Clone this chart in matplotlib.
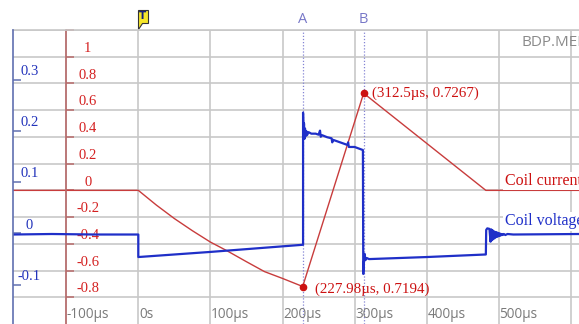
# coding = utf-8
import matplotlib
matplotlib.use("Agg")
import matplotlib.pyplot as plt
from matplotlib.transforms import blended_transform_factory, ScaledTranslation
from matplotlib.patches import Polygon

# ---- data ----
# coil voltage (blue, left scale), time in us
t_volt = [-174, -120, -60, 0, 0, 100, 228.5,
          228.5, 229.2, 229.8, 230.5, 231.2, 232, 233, 234, 236, 240, 246,
          250, 252, 253, 255, 262, 268, 269, 270, 280, 290, 291, 292, 300, 311.5,
          312, 313, 314, 315, 317, 320, 400, 482,
          482.5, 484, 487, 488.5, 489.5, 490.5, 491.5, 492.5, 493.5, 494.5,
          495.5, 496.5, 497.5, 498.5, 499.5, 500.5, 501.5, 502.5, 504, 505.5,
          507, 509, 512, 520, 612]
volt = [-0.002, -0.001, -0.002, -0.002, -0.046, -0.036, -0.022,
        0.236, 0.19, 0.215, 0.185, 0.205, 0.19, 0.2, 0.192, 0.198, 0.195, 0.195,
        0.193, 0.201, 0.189, 0.192, 0.188, 0.186, 0.178, 0.183, 0.178, 0.173, 0.178, 0.169, 0.169, 0.163,
        -0.079, -0.055, -0.040, -0.052, -0.048, -0.050, -0.046, -0.041,
        0.007, 0.010, 0.009, -0.016, 0.008, -0.013, 0.006, -0.011, 0.004, -0.009,
        0.003, -0.007, 0.002, -0.006, 0.001, -0.005, 0.000, -0.004, -0.001, -0.003,
        -0.001, -0.003, -0.001, -0.002, -0.001]

# coil current (red, right scale)
t_curr = [-174, 0, 25, 50, 75, 100, 123, 150, 175, 200, 227.98, 312.5, 482, 612]
curr = [0, 0, -0.110, -0.211, -0.302, -0.387, -0.452, -0.534, -0.608, -0.659, -0.7194, 0.7267, 0, 0]

peak_t = [312.5, 227.98]
peak_v = [0.7267, -0.7194]
peak_labels = ["(312.5\u00b5s, 0.7267)", "(227.98\u00b5s, 0.7194)"]

cursor_t = [227.98, 312.5]
cursor_names = ["A", "B"]

x_ticks = [-100, 0, 100, 200, 300, 400, 500, 600]
x_labels = ["-100\u00b5s", "0s", "100\u00b5s", "200\u00b5s", "300\u00b5s", "400\u00b5s", "500\u00b5s", ""]
red_ticks = [-0.8, -0.6, -0.4, -0.2, 0, 0.2, 0.4, 0.6, 0.8, 1.0, 1.2]
red_labels = ["-0.8", "-0.6", "-0.4", "-0.2", "0", "0.2", "0.4", "0.6", "0.8", "1", ""]
blue_ticks = [-0.1, 0, 0.1, 0.2, 0.3]
blue_labels = ["-0.1", "0", "0.1", "0.2", "0.3"]

# ---- colours ----
c_blue = "#1f2fc8"
c_red = "#c83c3c"
c_redtxt = "#d42020"
c_bluetxt = "#2233bb"
c_grid = "#c8c8c8"
c_cursor = "#8484d4"
serif = "Liberation Serif"

fig = plt.figure(figsize=(5.79, 3.24), dpi=100)
ax = fig.add_axes([13 / 579, 0, 566 / 579, 294 / 324])
ax.set_xlim(-173.8, 611.2)
ax.set_ylim(-1.0, 1.2)

ax.set_xticks(x_ticks)
ax.set_yticks(red_ticks)
ax.grid(True, color=c_grid, lw=1.2)
ax.tick_params(axis="x", length=0, labelbottom=False)
ax.tick_params(axis="y", direction="in", length=6, width=1.1, color="#b86a6a", labelleft=False)
for s in ("right", "bottom"):
	ax.spines[s].set_visible(False)
ax.spines["top"].set_color(c_grid); ax.spines["top"].set_linewidth(1.2)
ax.spines["left"].set_position(("data", -100))
ax.spines["left"].set_color("#b86a6a"); ax.spines["left"].set_linewidth(1.2)

# current trace + markers
ax.plot(t_curr, curr, color=c_red, lw=1.0)
ax.plot(peak_t, peak_v, "o", color="#cc1111", ms=4.5)
ax.annotate(peak_labels[0], (peak_t[0], peak_v[0]), xytext=(6, 0), textcoords="offset points",
	va="center", ha="left", color="#cc1111", fontsize=10.8, family=serif)
ax.annotate(peak_labels[1], (peak_t[1], peak_v[1]), xytext=(9, -1.7), textcoords="offset points",
	va="center", ha="left", color="#cc1111", fontsize=10.8, family=serif)

# cursors
xb = blended_transform_factory(ax.transData, ax.transAxes)
for t, name in zip(cursor_t, cursor_names):
	ax.axvline(t, ls=(0, (1, 1.5)), color=c_cursor, lw=0.9, zorder=1.6)
	ax.text(t, 1.036, name, transform=xb, ha="center", va="center", color="#7878c8",
		fontsize=10.5, family="Open Sans", clip_on=False)

# red tick labels (drawn right of the axis, just above each tick)
up = ScaledTranslation(0, 6 / 72, fig.dpi_scale_trans)
for v, lab in zip(red_ticks, red_labels):
	ax.text(-70, v, lab, transform=ax.transData + up, ha="center", va="center",
		color=c_redtxt, fontsize=10.5, family=serif)

# x tick labels
for t, lab in zip(x_ticks, x_labels):
	ax.text(t + 0.8, 0.034, lab, transform=xb, ha="left", va="center",
		color="#7a7a7a", fontsize=9.8, family="Open Sans")

# voltage axis
ax2 = ax.twinx()
ax2.set_ylim(-0.1768, 0.3975)
ax2.yaxis.tick_left()
ax2.set_yticks(blue_ticks)
ax2.tick_params(axis="y", direction="in", length=6, width=1.1, color="#6070b0", labelleft=False, labelright=False)
for s in ("right", "bottom", "top"):
	ax2.spines[s].set_visible(False)
ax2.spines["left"].set_color("#6070b0"); ax2.spines["left"].set_linewidth(1.2)
ax2.plot(t_volt, volt, color=c_blue, lw=1.6)

up2 = ScaledTranslation(0, 6 / 72, fig.dpi_scale_trans)
for v, lab in zip(blue_ticks, blue_labels):
	ax2.text(-151, v, lab, transform=ax2.transData + up2, ha="center", va="center",
		color=c_bluetxt, fontsize=10.5, family=serif)

# trace names on the right (cut by the right edge, as on the screenshot)
ax2.text(508, 0.07, "Coil current", transform=ax.transData, ha="left", va="center", color="#cc1111",
	fontsize=11.5, family=serif, bbox=dict(fc="white", ec="none", pad=1))
ax2.text(508, 0.024, "Coil voltage", ha="left", va="center", color=c_blue,
	fontsize=11.5, family=serif, bbox=dict(fc="white", ec="none", pad=1))

# file name
ax.text(532, 1.104, "BDP.MEM", ha="left", va="center", color="#8a8a8a", fontsize=11, family="Open Sans")

# trigger flag
flag = Polygon([(0, 1.005), (0, 1.0697), (13, 1.0697), (13, 1.0238), (5, 1.0238)],
	closed=True, transform=xb, fc="#f5e62a", ec="#333333", lw=0.8, clip_on=False)
ax.add_patch(flag)
ax.text(6.5, 1.047, "T", transform=xb, ha="center", va="center", color="#14207a",
	fontsize=7.5, fontweight="bold", clip_on=False)

fig.savefig("out.png", dpi=100)
